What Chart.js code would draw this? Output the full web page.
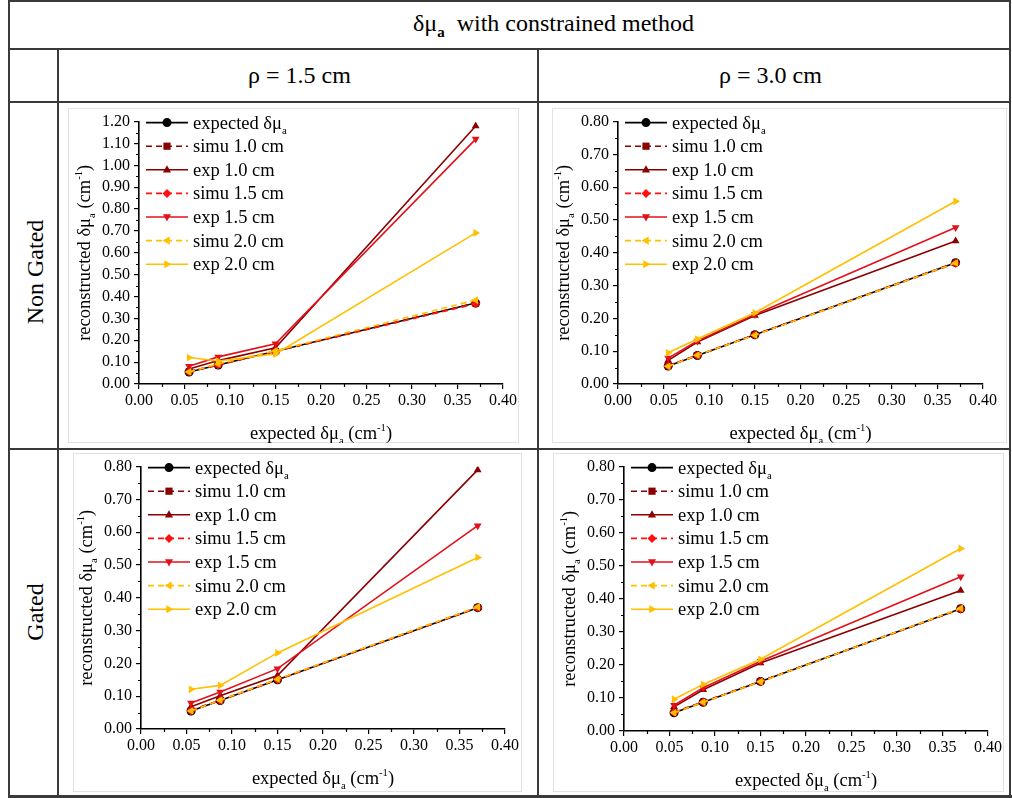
<!DOCTYPE html>
<html>
<head>
<meta charset="utf-8">
<script src="https://cdn.jsdelivr.net/npm/chart.js@4.4.0/dist/chart.umd.min.js"></script>
<style>
  body { margin: 0; background: #fff; }
  #page { position: relative; width: 1012px; height: 798px; font-family: "Liberation Serif", serif; color: #000; }
  .ln { position: absolute; background: #3a3a3a; }
  .txt { position: absolute; white-space: nowrap; font-size: 24px; line-height: 1; font-family: "Liberation Serif", serif; }
  .txt sub { font-size: 15px; font-weight: bold; vertical-align: -6px; }
  .rot { transform: translate(-50%, -50%) rotate(-90deg); }
  canvas { position: absolute; }
</style>
</head>
<body>
<div id="page">
  <!-- table lines -->
  <div class="ln" style="left:8px;top:0;width:1003px;height:2px"></div>
  <div class="ln" style="left:8px;top:48px;width:1003px;height:2px"></div>
  <div class="ln" style="left:8px;top:101px;width:1003px;height:2px"></div>
  <div class="ln" style="left:8px;top:448px;width:1003px;height:2px"></div>
  <div class="ln" style="left:8px;top:795px;width:1004px;height:3px"></div>
  <div class="ln" style="left:8px;top:0;width:2px;height:798px"></div>
  <div class="ln" style="left:1009px;top:0;width:2px;height:798px"></div>
  <div class="ln" style="left:57px;top:48px;width:2px;height:750px"></div>
  <div class="ln" style="left:537px;top:48px;width:2px;height:750px"></div>

  <div class="txt" style="left:413px;top:11px">δμ<sub>a</sub>&nbsp; with constrained method</div>
  <div class="txt" style="left:248px;top:63px">ρ = 1.5 cm</div>
  <div class="txt" style="left:719px;top:63px">ρ = 3.0 cm</div>
  <div class="txt rot" style="left:35px;top:272px">Non Gated</div>
  <div class="txt rot" style="left:35px;top:612px">Gated</div>

  <canvas id="c1" width="451" height="335" style="left:68px;top:108px"></canvas>
  <canvas id="c2" width="455" height="335" style="left:552px;top:108px"></canvas>
  <canvas id="c3" width="449" height="339" style="left:73px;top:453px"></canvas>
  <canvas id="c4" width="451" height="339" style="left:553px;top:453px"></canvas>
</div>
<script>
// expected absorption change (x values, and the "expected" series)
const expected = [0.055, 0.087, 0.15, 0.37];

const seriesLabels = ["expected δμ_{a}", "simu 1.0 cm", "exp 1.0 cm", "simu 1.5 cm", "exp 1.5 cm", "simu 2.0 cm", "exp 2.0 cm"];

// Non gated, rho = 1.5 cm
const ng15Simu10 = [0.057, 0.089, 0.15, 0.37];
const ng15Exp10 = [0.069, 0.107, 0.166, 1.18];
const ng15Simu15 = [0.056, 0.087, 0.15, 0.367];
const ng15Exp15 = [0.081, 0.124, 0.184, 1.12];
const ng15Simu20 = [0.055, 0.092, 0.152, 0.384];
const ng15Exp20 = [0.121, 0.105, 0.137, 0.691];

// Non gated, rho = 3.0 cm
const ng30Simu10 = [0.056, 0.088, 0.15, 0.37];
const ng30Exp10 = [0.072, 0.128, 0.209, 0.436];
const ng30Simu15 = [0.055, 0.087, 0.15, 0.368];
const ng30Exp15 = [0.079, 0.131, 0.212, 0.477];
const ng30Simu20 = [0.054, 0.088, 0.149, 0.369];
const ng30Exp20 = [0.095, 0.137, 0.217, 0.557];

// Gated, rho = 1.5 cm
const g15Simu10 = [0.057, 0.088, 0.151, 0.371];
const g15Exp10 = [0.068, 0.101, 0.163, 0.79];
const g15Simu15 = [0.056, 0.087, 0.15, 0.37];
const g15Exp15 = [0.079, 0.113, 0.184, 0.62];
const g15Simu20 = [0.055, 0.088, 0.152, 0.372];
const g15Exp20 = [0.121, 0.133, 0.232, 0.523];

// Gated, rho = 3.0 cm
const g30Simu10 = [0.057, 0.088, 0.15, 0.37];
const g30Exp10 = [0.073, 0.125, 0.206, 0.425];
const g30Simu15 = [0.056, 0.087, 0.15, 0.369];
const g30Exp15 = [0.078, 0.131, 0.211, 0.467];
const g30Simu20 = [0.055, 0.087, 0.149, 0.371];
const g30Exp20 = [0.096, 0.141, 0.217, 0.552];

// line styles for the 7 series
const colors = ["#000000", "#8b0000", "#8b0000", "#ff1010", "#e3101a", "#ffc000", "#ffc000"];
const dashes = [[], [6, 4], [], [6, 4], [], [6, 4], []];
const shapes = ["circle", "rect", "triangle", "rectRot", "triangle", "triangle", "triangle"];
const rotations = [0, 0, 0, 0, 180, 270, 90];

const FONT = '"Liberation Serif", serif';

// text with _{sub} and ^{sup}
function drawRich(ctx, text, x, y, size, align) {
  const segs = [];
  const re = /([_^])\{([^}]*)\}/g;
  let last = 0, m;
  while ((m = re.exec(text))) {
    if (m.index > last) segs.push({ t: text.slice(last, m.index), k: "" });
    segs.push({ t: m[2], k: m[1] });
    last = re.lastIndex;
  }
  if (last < text.length) segs.push({ t: text.slice(last), k: "" });
  let w = 0;
  segs.forEach(s => {
    s.size = s.k ? size * 0.58 : size;
    ctx.font = s.size + "px " + FONT;
    s.w = ctx.measureText(s.t).width;
    w += s.w;
  });
  let cx = align === "center" ? x - w / 2 : x;
  ctx.textAlign = "left";
  ctx.textBaseline = "alphabetic";
  ctx.fillStyle = "#000";
  segs.forEach(s => {
    ctx.font = s.size + "px " + FONT;
    const dy = s.k === "_" ? size * 0.28 : s.k === "^" ? -size * 0.42 : 0;
    ctx.fillText(s.t, cx, y + dy);
    cx += s.w;
  });
}

function marker(ctx, style, rot, r, x, y, color) {
  ctx.save();
  ctx.translate(x, y);
  ctx.rotate(rot * Math.PI / 180);
  ctx.fillStyle = color;
  ctx.setLineDash([]);
  ctx.beginPath();
  if (style === "circle") ctx.arc(0, 0, r, 0, Math.PI * 2);
  else if (style === "rect") ctx.rect(-r * 0.8, -r * 0.8, r * 1.6, r * 1.6);
  else if (style === "rectRot") { ctx.moveTo(0, -r); ctx.lineTo(r, 0); ctx.lineTo(0, r); ctx.lineTo(-r, 0); ctx.closePath(); }
  else { ctx.moveTo(0, -r); ctx.lineTo(r * 0.9, r * 0.6); ctx.lineTo(-r * 0.9, r * 0.6); ctx.closePath(); }
  ctx.fill();
  ctx.restore();
}

// frame, legend, axis titles and minor ticks
const decor = {
  id: "decor",
  beforeDraw(chart) {
    const ctx = chart.ctx;
    ctx.save();
    ctx.strokeStyle = "#e2e2e2";
    ctx.lineWidth = 1;
    ctx.strokeRect(0.5, 0.5, chart.width - 1, chart.height - 1);
    ctx.restore();
  },
  afterDraw(chart) {
    const ctx = chart.ctx;
    const a = chart.chartArea;
    const xs = chart.scales.x, ys = chart.scales.y;
    ctx.save();
    // minor ticks
    ctx.strokeStyle = "#000";
    ctx.lineWidth = 1.2;
    ctx.beginPath();
    for (let v = 0.025; v < 0.4; v += 0.05) {
      const px = Math.round(xs.getPixelForValue(v)) + 0.5;
      ctx.moveTo(px, a.bottom); ctx.lineTo(px, a.bottom + 3);
    }
    for (let v = 0.05; v < ys.max; v += 0.1) {
      const py = Math.round(ys.getPixelForValue(v)) + 0.5;
      ctx.moveTo(a.left, py); ctx.lineTo(a.left - 3, py);
    }
    ctx.stroke();

    // legend
    const lx = a.left + 7;
    chart.data.datasets.forEach((ds, i) => {
      const ly = a.top + 1 + i * 23.6;
      ctx.strokeStyle = ds.borderColor;
      ctx.lineWidth = 1.6;
      ctx.setLineDash(ds.borderDash);
      ctx.beginPath();
      ctx.moveTo(lx, ly); ctx.lineTo(lx + 42, ly);
      ctx.stroke();
      marker(ctx, ds.pointStyle, ds.pointRotation, 4.5, lx + 21, ly, ds.borderColor);
      drawRich(ctx, seriesLabels[i], lx + 47, ly + 6, 18.5, "left");
    });

    // axis titles
    drawRich(ctx, "expected δμ_{a} (cm^{-1})", (a.left + a.right) / 2, a.bottom + 55, 18.5, "center");
    ctx.translate(a.left - 55, (a.top + a.bottom) / 2);
    ctx.rotate(-Math.PI / 2);
    drawRich(ctx, "reconstructed δμ_{a} (cm^{-1})", 0, 6, 18.5, "center");
    ctx.restore();
  }
};

function makeChart(id, series, yMax, pad) {
  const datasets = series.map((vals, i) => ({
    label: seriesLabels[i],
    data: expected.map((x, j) => ({ x: x, y: vals[j] })),
    borderColor: colors[i],
    backgroundColor: colors[i],
    borderWidth: 1.6,
    borderDash: dashes[i],
    pointStyle: shapes[i],
    pointRotation: rotations[i],
    pointRadius: 4.5,
    pointBorderWidth: 0,
    showLine: true,
    order: 10 - i
  }));
  const tickFont = { family: FONT, size: 16 };
  return new Chart(document.getElementById(id), {
    type: "scatter",
    data: { datasets: datasets },
    plugins: [decor],
    options: {
      responsive: false,
      animation: false,
      layout: { padding: { left: 0, top: pad.top, right: pad.right, bottom: 0 } },
      plugins: { legend: { display: false }, tooltip: { enabled: false } },
      scales: {
        x: {
          type: "linear", min: 0, max: 0.4,
          ticks: { stepSize: 0.05, autoSkip: false, color: "#000", font: tickFont, padding: 2, maxRotation: 0,
            callback: v => v.toFixed(2) },
          grid: { drawOnChartArea: false, color: "#000", tickLength: 5, lineWidth: 1.2 },
          border: { color: "#000", width: 1.6 },
          afterFit: s => { s.height = pad.bottom; }
        },
        y: {
          type: "linear", min: 0, max: yMax,
          ticks: { stepSize: 0.1, autoSkip: false, color: "#000", font: tickFont, padding: 4,
            callback: v => v.toFixed(2) },
          grid: { drawOnChartArea: false, color: "#000", tickLength: 5, lineWidth: 1.2 },
          border: { color: "#000", width: 1.6 },
          afterFit: s => { s.width = pad.left; }
        }
      }
    }
  });
}

makeChart("c1", [expected, ng15Simu10, ng15Exp10, ng15Simu15, ng15Exp15, ng15Simu20, ng15Exp20], 1.2,
  { left: 71, top: 8, right: 15, bottom: 59 });
makeChart("c2", [expected, ng30Simu10, ng30Exp10, ng30Simu15, ng30Exp15, ng30Simu20, ng30Exp20], 0.8,
  { left: 66, top: 9, right: 24, bottom: 59 });
makeChart("c3", [expected, g15Simu10, g15Exp10, g15Simu15, g15Exp15, g15Simu20, g15Exp20], 0.8,
  { left: 68, top: 10, right: 17, bottom: 63 });
makeChart("c4", [expected, g30Simu10, g30Exp10, g30Simu15, g30Exp15, g30Simu20, g30Exp20], 0.8,
  { left: 71, top: 10, right: 15, bottom: 61 });
</script>
</body>
</html>
